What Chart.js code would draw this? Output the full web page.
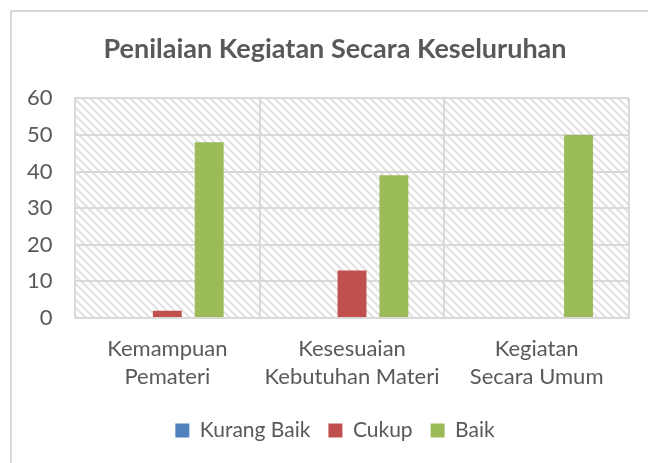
<!DOCTYPE html>
<html>
<head>
<meta charset="utf-8">
<script src="https://cdn.jsdelivr.net/npm/chart.js@4/dist/chart.umd.min.js"></script>
<style>
    html, body { margin: 0; padding: 0; background: #fff; }
    #wrap { width: 648px; height: 463px; }
</style>
</head>
<body>
<div id="wrap"><canvas id="chart-1" width="648" height="463"></canvas></div>
<script>
// data
const categories = [['Kemampuan', 'Pemateri'], ['Kesesuaian', 'Kebutuhan Materi'], ['Kegiatan', 'Secara Umum']];
const seriesNames = ['Kurang Baik', 'Cukup', 'Baik'];
const kurangBaik = [0, 0, 0];
const cukup = [2, 13, 0];
const baik = [48, 39, 50];
const yTicks = [0, 10, 20, 30, 40, 50, 60];

const seriesColors = ['#4F81BD', '#C0504D', '#9BBB59'];
const textColor = '#595959';
const gridColor = '#D9D9D9';
const fontFamily = 'Lato, "Open Sans", sans-serif';

// pola garis miring untuk area plot
function makeHatch() {
    const c = document.createElement('canvas');
    c.width = 8;
    c.height = 8;
    const g = c.getContext('2d');
    g.fillStyle = '#ffffff';
    g.fillRect(0, 0, 8, 8);
    g.strokeStyle = '#E2E2E2';
    g.lineWidth = 2.2;
    g.beginPath();
    g.moveTo(-4, -4); g.lineTo(12, 12);
    g.moveTo(-4, 4); g.lineTo(4, 12);
    g.moveTo(4, -4); g.lineTo(12, 4);
    g.stroke();
    return g.createPattern(c, 'repeat');
}

const backgroundPlugin = {
    id: 'bgHatch',
    beforeDraw(chart) {
        const ctx = chart.ctx;
        const a = chart.chartArea;
        ctx.save();
        // bingkai luar
        ctx.strokeStyle = gridColor;
        ctx.lineWidth = 2;
        ctx.strokeRect(11, 11, 700, 600);
        ctx.fillStyle = makeHatch();
        ctx.fillRect(a.left, a.top, a.right - a.left, a.bottom - a.top);
        ctx.restore();
    }
};

const ctx = document.getElementById('chart-1').getContext('2d');

new Chart(ctx, {
    type: 'bar',
    data: {
        labels: categories,
        datasets: [
            {label: seriesNames[0], data: kurangBaik, backgroundColor: seriesColors[0]},
            {label: seriesNames[1], data: cukup, backgroundColor: seriesColors[1]},
            {label: seriesNames[2], data: baik, backgroundColor: seriesColors[2]}
        ]
    },
    options: {
        responsive: false,
        animation: false,
        devicePixelRatio: 1,
        categoryPercentage: 0.68,
        barPercentage: 0.69,
        layout: {
            padding: {left: 41, right: 19, top: 0, bottom: 12}
        },
        scales: {
            x: {
                grid: {color: gridColor, lineWidth: 2, drawTicks: false, offset: true},
                border: {color: gridColor, width: 2},
                ticks: {
                    color: textColor,
                    padding: 17,
                    maxRotation: 0,
                    font: {family: fontFamily, size: 22, lineHeight: 1.27}
                },
                afterFit: function (scale) {
                    scale.height = 84;
                }
            },
            y: {
                min: 0,
                max: 60,
                grid: {color: gridColor, lineWidth: 2, drawTicks: false},
                border: {color: gridColor, width: 2},
                afterBuildTicks: function (scale) {
                    scale.ticks = yTicks.map(v => ({value: v}));
                },
                ticks: {
                    color: textColor,
                    // label digambar di kiri sumbu tanpa terpotong
                    mirror: true,
                    crossAlign: 'far',
                    padding: -48,
                    font: {family: fontFamily, size: 22}
                },
                afterFit: function (scale) {
                    scale.width = 34;
                }
            }
        },
        plugins: {
            title: {
                display: true,
                text: 'Penilaian Kegiatan Secara Keseluruhan',
                color: textColor,
                font: {family: fontFamily, size: 27, weight: 'bold', lineHeight: 1.2},
                padding: {top: 33, bottom: 33}
            },
            legend: {
                position: 'bottom',
                labels: {
                    color: textColor,
                    boxWidth: 14,
                    boxHeight: 14,
                    padding: 18,
                    font: {family: fontFamily, size: 21}
                }
            },
            tooltip: {enabled: false}
        }
    },
    plugins: [backgroundPlugin]
});
</script>
</body>
</html>
